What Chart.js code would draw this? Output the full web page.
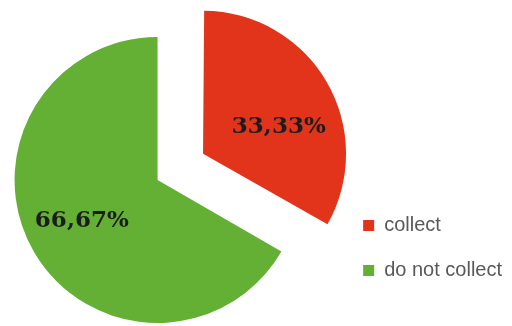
<!DOCTYPE html>
<html>
<head>
<meta charset="utf-8">
<script src="https://cdn.jsdelivr.net/npm/chart.js@4.4.1/dist/chart.umd.min.js"></script>
<style>
  html, body { margin: 0; padding: 0; background: #ffffff; }
  canvas { display: block; }
</style>
</head>
<body>
<canvas id="c" width="512" height="326"></canvas>
<script>
const categories = ['collect', 'do not collect'];
const shares = [33.33, 66.67];
const sliceColors = ['#E2341B', '#63B035'];
const explode = [210, 0];

const total = shares.reduce((a, b) => a + b, 0);
const fmt = v => (v / total * 100).toFixed(2).replace('.', ',') + '%';

// Chart.js grows an offset arc's radius by offset/4*(1-sin(circumference)); undo it so exploded slices keep the same radius
const keepRadius = {
  id: 'keepRadius',
  beforeDatasetDraw(chart, args) {
    const meta = chart.getDatasetMeta(args.index);
    meta.data.forEach(arc => {
      const off = (arc.options.offset || 0) / 4;
      const fix = 1 - Math.sin(Math.min(Math.PI, arc.circumference));
      arc._r0 = arc.outerRadius;
      arc.outerRadius = arc.outerRadius - off * fix;
    });
  },
  afterDatasetDraw(chart, args) {
    const meta = chart.getDatasetMeta(args.index);
    meta.data.forEach(arc => { if (arc._r0 !== undefined) arc.outerRadius = arc._r0; });
  }
};

// empty layout box between the pie area and the legend (a gap)
const legendGap = {
  id: 'legendGap',
  start(chart) {
    const box = {
      position: 'right',
      weight: -10,
      fullSize: false,
      options: {},
      isHorizontal() { return false; },
      update(maxWidth, maxHeight) { this.width = 23; this.height = maxHeight; },
      draw() {}
    };
    Chart.layouts.addBox(chart, box);
  }
};

const sliceLabels = {
  id: 'sliceLabels',
  afterDatasetsDraw(chart) {
    const ctx = chart.ctx;
    const meta = chart.getDatasetMeta(0);
    const vals = chart.data.datasets[0].data;
    ctx.save();
    ctx.font = 'bold 23px "DejaVu Serif"';
    ctx.fillStyle = '#1c1c1c';
    ctx.textAlign = 'center';
    ctx.textBaseline = 'middle';
    meta.data.forEach((arc, i) => {
      const mid = (arc.startAngle + arc.endAngle) / 2;
      const off = (arc.options.offset || 0) / 4;
      const cx = arc.x + Math.cos(mid) * off;
      const cy = arc.y + Math.sin(mid) * off;
      const a = mid + 6 * Math.PI / 180;
      const r = arc.outerRadius * 0.58;
      ctx.fillText(fmt(vals[i]), cx + Math.cos(a) * r, cy + Math.sin(a) * r + 7);
    });
    ctx.restore();
  }
};

new Chart(document.getElementById('c'), {
  type: 'pie',
  data: {
    labels: categories,
    datasets: [{
      data: shares,
      backgroundColor: sliceColors,
      borderWidth: 0,
      offset: explode,
      radius: 143
    }]
  },
  options: {
    responsive: false,
    animation: false,
    devicePixelRatio: 1,
    layout: { padding: { left: 0, right: 0, top: 54.5, bottom: 20.5 } },
    plugins: {
      tooltip: { enabled: false },
      legend: {
        position: 'right',
        align: 'end',
        maxWidth: 300,
        labels: {
          boxWidth: 11,
          boxHeight: 11,
          padding: 25,
          color: '#595959',
          font: { family: '"Liberation Sans", Arial, sans-serif', size: 20 }
        }
      }
    }
  },
  plugins: [legendGap, keepRadius, sliceLabels]
});
</script>
</body>
</html>
